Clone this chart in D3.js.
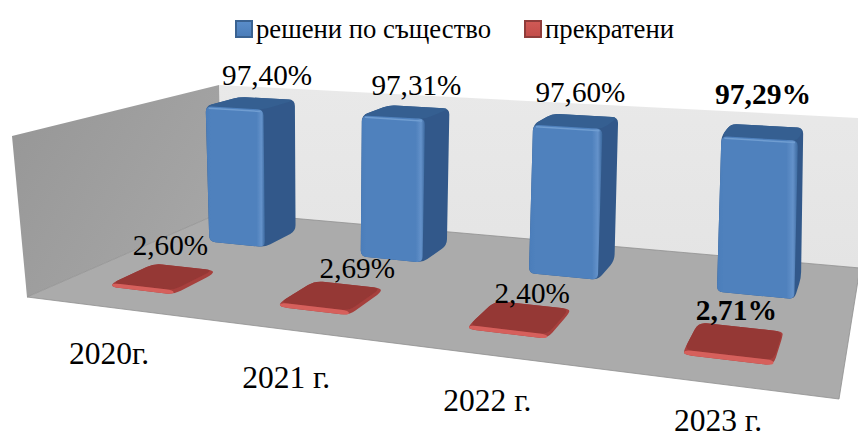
<!DOCTYPE html>
<html>
<head>
<meta charset="utf-8">
<script src="https://cdn.jsdelivr.net/npm/d3@7"></script>
<style>
  html, body { margin: 0; padding: 0; background: #fff; }
  text { font-family: "Liberation Serif", serif; fill: #000; }
</style>
</head>
<body>
<div id="chart"></div>
<script>
const categories = ["2020г.", "2021 г.", "2022 г.", "2023 г."];
const seriesNames = ["решени по същество", "прекратени"];
const solved = [97.40, 97.31, 97.60, 97.29];
const terminated = [2.60, 2.69, 2.40, 2.71];
const boldCategory = "2023 г.";

const w = 858, h = 438;

// corners of the 3d box on screen: front-left, front-right, back-right, back-left
const floorQuad = [[27, 297], [839, 399], [860, 268], [222, 212]];
const topQuad = [[12, 136], [849, 195], [860, 118], [219, 85]];

function homography(q) {
  const [p0, p1, p2, p3] = q;
  const dx1 = p1[0] - p2[0], dx2 = p3[0] - p2[0], sx = p0[0] - p1[0] + p2[0] - p3[0];
  const dy1 = p1[1] - p2[1], dy2 = p3[1] - p2[1], sy = p0[1] - p1[1] + p2[1] - p3[1];
  const den = dx1 * dy2 - dx2 * dy1;
  const g = (sx * dy2 - dx2 * sy) / den;
  const k = (dx1 * sy - sx * dy1) / den;
  const a = p1[0] - p0[0] + g * p1[0], b = p3[0] - p0[0] + k * p3[0];
  const d = p1[1] - p0[1] + g * p1[1], e = p3[1] - p0[1] + k * p3[1];
  return (u, v) => {
    const t = g * u + k * v + 1;
    return [(a * u + b * v + p0[0]) / t, (d * u + e * v + p0[1]) / t];
  };
}

const floorAt = homography(floorQuad);
const topAt = homography(topQuad);

// u along the categories, v into the depth, z up the value axis
function project(u, v, z) {
  const f = floorAt(u, v), t = topAt(u, v);
  return [f[0] + (t[0] - f[0]) * z, f[1] + (t[1] - f[1]) * z];
}

const xScale = d3.scaleBand().domain(categories).range([0.002, 1.007]).paddingInner(0.62).paddingOuter(0.31);
const depthScale = d3.scaleBand().domain(seriesNames.slice().reverse()).range([0, 1]).paddingInner(0.6).paddingOuter(0.3);
const zScale = d3.scaleLinear().domain([0, 100]).range([0, 1]);

// polygon with rounded corners
function roundedPath(points, r) {
  const n = points.length;
  let path = "";
  for (let i = 0; i < n; i++) {
    const p = points[i], prev = points[(i + n - 1) % n], next = points[(i + 1) % n];
    const d1 = Math.hypot(prev[0] - p[0], prev[1] - p[1]);
    const d2 = Math.hypot(next[0] - p[0], next[1] - p[1]);
    const r1 = Math.min(r, d1 / 2), r2 = Math.min(r, d2 / 2);
    const a = [p[0] + (prev[0] - p[0]) * r1 / d1, p[1] + (prev[1] - p[1]) * r1 / d1];
    const b = [p[0] + (next[0] - p[0]) * r2 / d2, p[1] + (next[1] - p[1]) * r2 / d2];
    path += (i === 0 ? "M" : "L") + a[0] + "," + a[1] + "Q" + p[0] + "," + p[1] + " " + b[0] + "," + b[1];
  }
  return path + "Z";
}

const svg = d3.select("#chart").append("svg").attr("width", w).attr("height", h)
  .style("display", "block");
const defs = svg.append("defs");

function gradient(id, stops, x2, y2) {
  const g = defs.append("linearGradient").attr("id", id)
    .attr("x1", 0).attr("y1", 0).attr("x2", x2).attr("y2", y2);
  stops.forEach(function(s) {
    g.append("stop").attr("offset", s[0]).attr("stop-color", s[1]);
  });
}

gradient("backWall", [[0, "#e9e9e9"], [1, "#e4e4e4"]], 0, 1);
gradient("sideWall", [[0, "#969696"], [1, "#a6a6a6"]], 1, 0.6);
gradient("blueFront", [[0, "#4b7dba"], [0.08, "#4f81bd"], [0.86, "#4f81bd"], [0.94, "#6492ca"], [1, "#3c689e"]], 1, 0);
gradient("swatchBlue", [[0, "#5a8dca"], [1, "#4a7cb8"]], 0, 1);
gradient("swatchRed", [[0, "#d05a56"], [1, "#c24c49"]], 0, 1);
defs.append("filter").attr("id", "soft")
  .append("feGaussianBlur").attr("stdDeviation", 0.45);

// Walls and floor
const g = svg.append("g");
g.append("path")
  .attr("d", d3.line()([project(0, 1, 0), project(1, 1, 0), project(1, 1, 1), project(0, 1, 1)]) + "Z")
  .attr("fill", "url(#backWall)");
g.append("path")
  .attr("d", d3.line()([project(0, 0, 0), project(0, 1, 0), project(0, 1, 1), project(0, 0, 1)]) + "Z")
  .attr("fill", "url(#sideWall)");
g.append("path")
  .attr("d", d3.line()([project(0, 0, 0), project(1, 0, 0), project(1, 1, 0), project(0, 1, 0)]) + "Z")
  .attr("fill", "#ababab")
  .attr("stroke", "#8f8f8f")
  .attr("stroke-width", 0.8);

// Draw one 3d bar
function drawBar(parent, u0, u1, v0, v1, z, colors, radius) {
  const bar = parent.append("g").attr("filter", "url(#soft)");
  const a = project(u0, v0, 0), b = project(u1, v0, 0), c = project(u1, v1, 0);
  const d = project(u1, v1, z), e = project(u0, v1, z), f = project(u0, v0, z);
  const m = project(u1, v0, z);
  // silhouette first, so the rounded faces leave no gaps between them
  bar.append("path").attr("d", roundedPath([a, b, c, d, e, f], radius)).attr("fill", colors.side);
  bar.append("path").attr("d", roundedPath([f, m, d, e], radius)).attr("fill", colors.top);
  bar.append("path").attr("d", roundedPath([a, b, m, f], radius)).attr("fill", colors.front);
  if (colors.rim) {
    bar.append("path")
      .attr("d", d3.line()([[f[0] + 3, f[1] + 2], [m[0] - 3, m[1] + 2]]))
      .attr("stroke", colors.rim)
      .attr("stroke-width", 1.5)
      .attr("fill", "none");
  }
}

const blue = { front: "url(#blueFront)", side: "#31598a", top: "#355f91", rim: "#6f9dd1" };
const red = { front: "#d6605c", side: "#a63f3c", top: "#953735" };

const marks = svg.append("g");
const series = [
  { name: seriesNames[0], values: solved, colors: blue, radius: 6 },
  { name: seriesNames[1], values: terminated, colors: red, radius: 8 }
];

series.forEach(function(s) {
  const v0 = depthScale(s.name), v1 = v0 + depthScale.bandwidth();
  s.values.forEach(function(value, i) {
    const u0 = xScale(categories[i]), u1 = u0 + xScale.bandwidth();
    drawBar(marks, u0, u1, v0, v1, zScale(value), s.colors, s.radius);
  });
});

// Data labels sit over the bar, nudged by hand like in the original
const labelNudge = [
  [[16, -18], [7, -21]],
  [[10, -17], [26, -17]],
  [[4, -19], [12, -14]],
  [[0, -28], [2, -20]]
];

series.forEach(function(s, si) {
  const v0 = depthScale(s.name), v1 = v0 + depthScale.bandwidth();
  s.values.forEach(function(value, i) {
    const u = xScale(categories[i]) + xScale.bandwidth() / 2;
    const p = project(u, (v0 + v1) / 2, zScale(value));
    const bold = categories[i] === boldCategory;
    svg.append("text")
      .attr("x", p[0] + labelNudge[i][si][0])
      .attr("y", p[1] + labelNudge[i][si][1])
      .attr("text-anchor", "middle")
      .attr("font-size", bold ? 29.6 : 29.2)
      .attr("font-weight", bold ? "bold" : "normal")
      .text(value.toFixed(2).replace(".", ",") + "%");
  });
});

// Category labels under the front edge, the last one kept inside the picture
const categoryDrop = [57, 58, 56, 47];
categories.forEach(function(c, i) {
  const p = project(xScale(c) + xScale.bandwidth() / 2, 0, 0);
  svg.append("text")
    .attr("x", p[0])
    .attr("y", p[1] + categoryDrop[i])
    .attr("text-anchor", "middle")
    .attr("font-size", 31.5)
    .text(c);
});

// Legend
const legendX = [235, 524];
const swatches = ["url(#swatchBlue)", "url(#swatchRed)"];
const swatchStroke = ["#3a6291", "#8f3c3a"];
seriesNames.forEach(function(name, i) {
  svg.append("rect")
    .attr("x", legendX[i] + 1).attr("y", 21)
    .attr("width", 16).attr("height", 16)
    .attr("fill", swatches[i])
    .attr("stroke", swatchStroke[i])
    .attr("stroke-width", 2);
  svg.append("text")
    .attr("x", legendX[i] + 21)
    .attr("y", 38)
    .attr("font-size", 26.7)
    .text(name);
});
</script>
</body>
</html>
